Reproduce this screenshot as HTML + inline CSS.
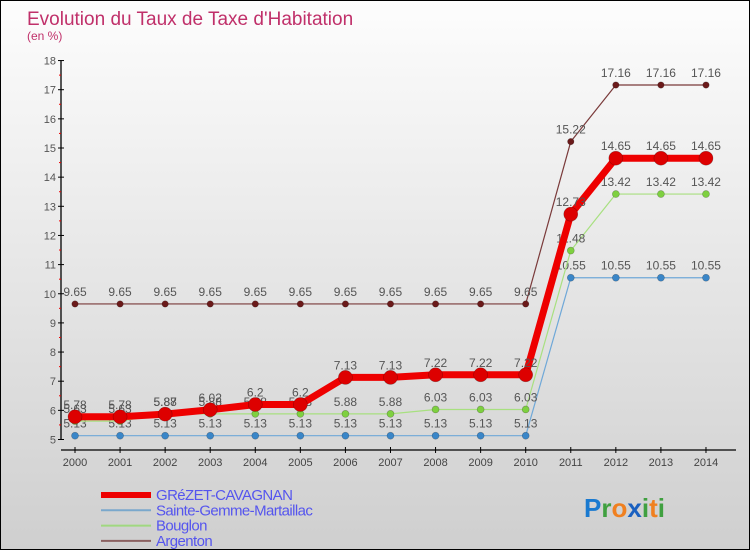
<!DOCTYPE html>
<html><head><meta charset="utf-8"><style>
body{margin:0;width:750px;height:550px;overflow:hidden;font-family:"Liberation Sans",sans-serif}
#wrap{position:relative;width:748px;height:548px;border:1px solid #000;background:linear-gradient(#fdfdfd,#cfcfcf)}
</style></head><body>
<div id="wrap">
<svg id="chart" width="748" height="548" style="position:absolute;left:0;top:0"></svg>
</div>
<script>
const years=["2000","2001","2002","2003","2004","2005","2006","2007","2008","2009","2010","2011","2012","2013","2014"];
const grezet=[5.78,5.78,5.87,6.02,6.2,6.2,7.13,7.13,7.22,7.22,7.22,12.73,14.65,14.65,14.65];
const sainte=[5.13,5.13,5.13,5.13,5.13,5.13,5.13,5.13,5.13,5.13,5.13,10.55,10.55,10.55,10.55];
const bouglon=[5.63,5.63,5.88,5.88,5.88,5.88,5.88,5.88,6.03,6.03,6.03,11.48,13.42,13.42,13.42];
const argenton=[9.65,9.65,9.65,9.65,9.65,9.65,9.65,9.65,9.65,9.65,9.65,15.22,17.16,17.16,17.16];
const yTicks=[5,6,7,8,9,10,11,12,13,14,15,16,17,18];
const NS="http://www.w3.org/2000/svg";
const svg=document.getElementById('chart');
const X=i=>74+i*45.07;
const Y=v=>438.5-(v-5)*29.15;
function mk(t,a,p){const e=document.createElementNS(NS,t);for(const k in a)e.setAttribute(k,a[k]);(p||svg).appendChild(e);return e;}
function txt(x,y,s,a){const e=mk('text',Object.assign({x:x,y:y},a));e.textContent=s;return e;}
let t=txt(26,24,"Evolution du Taux de Taxe d'Habitation",{'font-size':19,fill:'#c0306a'});

t=txt(26,39,"(en %)",{'font-size':12,fill:'#c0306a'});

let ax=mk('line',{x1:60,y1:Y(18),x2:60,y2:Y(5),stroke:'#000','stroke-width':1.3});

ax=mk('line',{x1:60,y1:449,x2:735,y2:449,stroke:'#000','stroke-width':1.3});

yTicks.forEach(v=>{
 mk('line',{x1:57,y1:Y(v),x2:63,y2:Y(v),stroke:'#000'});
 if(v<18)mk('line',{x1:58,y1:Y(v+0.5),x2:60,y2:Y(v+0.5),stroke:'#e00'});
 const l=txt(55,Y(v)+4,String(v),{'font-size':11,fill:'#555','text-anchor':'end'});
 
});
years.forEach((y,i)=>{
 mk('line',{x1:X(i),y1:446,x2:X(i),y2:452,stroke:'#000'});
 const l=txt(X(i),465,y,{'font-size':11,fill:'#444','text-anchor':'middle'});
 
});
function series(data,color,w,r,fill,name){
 const g=mk('g',{});
 
 mk('polyline',{points:data.map((v,i)=>X(i)+','+Y(v)).join(' '),fill:'none',stroke:color,'stroke-width':w,'stroke-linejoin':'round'},g);
 data.forEach((v,i)=>{
  const c=mk('circle',{cx:X(i),cy:Y(v),r:r,fill:fill,stroke:'rgba(0,0,0,0.3)','stroke-width':0.6},g);
  
  const l=txt(X(i),Y(v)-8,String(v),{'font-size':12,fill:'#555','text-anchor':'middle'},g);
  
 });
}
series(argenton,'#7a3a3a',1.2,3.2,'#6b1a1a','argenton');
series(sainte,'#6fa8d8',1.2,3.5,'#3a86c8','sainte-gemme');
series(bouglon,'#a8e080',1.2,3.5,'#7ed040','bouglon');
series(grezet,'#ee0000',7,7,'#dd0000','grezet');
const leg=[["GRéZET-CAVAGNAN","#ee0000",6],["Sainte-Gemme-Martaillac","#7aa8cc",2],["Bouglon","#a0d880",2],["Argenton","#8a6060",2]];
leg.forEach((e,i)=>{
 const g=mk('g',{});
 
 const y=492+i*15.3;
 mk('line',{x1:100,y1:y+2,x2:150,y2:y+2,stroke:e[1],'stroke-width':e[2]},g);
 txt(155,y+7,e[0],{'font-size':15,fill:'#5555ee','letter-spacing':'-0.6'},g);
});
const lg=mk('text',{x:583,y:516,'font-size':26,'font-weight':'bold'});

[["P","#1a7ad0"],["r","#40a040"],["o","#f08020"],["x","#1a60c0"],["i","#40a040"],["t","#f08020"],["i","#40a040"]].forEach(p=>{const s=mk('tspan',{fill:p[1]},lg);s.textContent=p[0];});
</script>
</body></html>
